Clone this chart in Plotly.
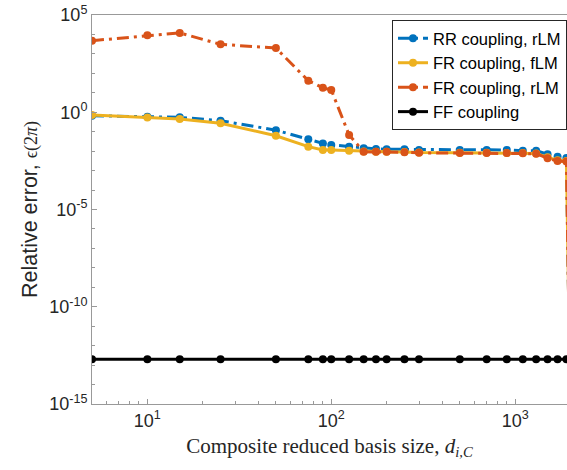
import plotly.graph_objects as go
import numpy as np

x_vals = [5, 10, 15, 25, 50, 75, 90, 100, 125, 150, 175, 200, 250, 300,
          500, 700, 900, 1100, 1300, 1500, 1700, 1900, 2000]

rr_rlm = [0.66, 0.59, 0.55, 0.37, 0.12, 0.041, 0.025, 0.021, 0.017, 0.014, 0.013,
          0.0125, 0.0125, 0.0115, 0.0115, 0.0115, 0.0115, 0.0105, 0.0105, 0.0069,
          0.0052, 0.0044, 1e-16]
fr_flm = [0.72, 0.53, 0.45, 0.27, 0.062, 0.017, 0.0115, 0.0115, 0.0105, 0.0095,
          0.0093, 0.0092, 0.009, 0.0085, 0.0082, 0.0082, 0.008, 0.008, 0.0076,
          0.0048, 0.0034, 0.0031, 1e-16]
fr_rlm = [4.8e3, 9e3, 1.2e4, 3.1e3, 2e3, 42, 18, 14, 0.068, 0.0093, 0.0093, 0.0093,
          0.0087, 0.0082, 0.008, 0.008, 0.008, 0.0078, 0.0074, 0.0043, 0.0031,
          0.0029, 1e-16]
ff = [2e-13] * 23

names = ["RR coupling, rLM", "FR coupling, fLM", "FR coupling, rLM", "FF coupling"]
colors = ["#0072BD", "#EDB120", "#D95319", "#000000"]
dashes = ["12px,5px,3px,5px", "solid", "12px,5px,3px,5px", "solid"]
series = [rr_rlm, fr_flm, fr_rlm, ff]

x_tickvals = [10, 100, 1000]
x_ticktext = ["10<sup>1</sup>", "10<sup>2</sup>", "10<sup>3</sup>"]
y_tickvals = [1e-15, 1e-10, 1e-5, 1, 1e5]
y_ticktext = ["10<sup>-15</sup>", "10<sup>-10</sup>", "10<sup>-5</sup>",
              "10<sup>0</sup>", "10<sup>5</sup>"]

fig = go.Figure()
for name, col, dash, ys in zip(names, colors, dashes, series):
    fig.add_trace(go.Scatter(
        x=x_vals, y=ys, name=name, mode="lines+markers",
        line=dict(color=col, width=3, dash=dash),
        marker=dict(color=col, size=8, symbol="circle"),
        cliponaxis=True,
    ))

tickfont = dict(family="Liberation Sans, Arial", size=18, color="#262626")
fig.update_layout(
    width=567, height=470,
    margin=dict(l=92, r=0, t=15, b=66),
    paper_bgcolor="white", plot_bgcolor="white",
    showlegend=True,
    legend=dict(
        x=1.0, y=0.987, xanchor="right", yanchor="top",
        bgcolor="white", bordercolor="#262626", borderwidth=1,
        font=dict(family="Liberation Sans, Arial", size=16.5, color="#000000"),
        itemwidth=30, tracegroupgap=0,
    ),
    xaxis=dict(
        type="log", range=[np.log10(5), np.log10(1900) + 0.003],
        tickvals=x_tickvals, ticktext=x_ticktext,
        ticks="inside", ticklen=5, tickcolor="#999999",
        minor=dict(ticks="inside", ticklen=3, dtick="D1", tickcolor="#999999", showgrid=False),
        showline=True, linecolor="#999999", linewidth=1, mirror=True,
        showgrid=False, zeroline=False, tickfont=tickfont,
        title=dict(
            text="Composite reduced basis size, <i>d</i><sub><i>i,C</i></sub>",
            font=dict(family="Liberation Serif, Times New Roman, serif", size=21, color="#262626"),
            standoff=8,
        ),
    ),
    yaxis=dict(
        type="log", range=[-15, 5],
        tickvals=y_tickvals, ticktext=y_ticktext,
        ticks="inside", ticklen=5, tickcolor="#999999",
        minor=dict(ticks="inside", ticklen=3, dtick=1, tickcolor="#999999", showgrid=False),
        showline=True, linecolor="#999999", linewidth=1, mirror=True,
        showgrid=False, zeroline=False, tickfont=tickfont,
        title=dict(
            text="Relative error, <span style=\"font-family:'Liberation Serif', serif; font-size:18px;\">ϵ(2<i>π</i>)</span>",
            font=dict(family="Liberation Sans, Arial", size=21.5, color="#262626"),
            standoff=5,
        ),
    ),
)

fig.write_html(
    "out.html",
    config={"displayModeBar": False},
    post_script="document.body.style.margin='0';document.documentElement.style.overflow='hidden';document.body.style.overflow='hidden';",
)
